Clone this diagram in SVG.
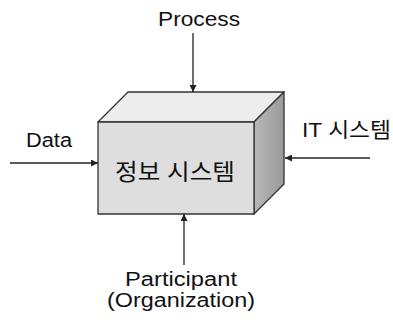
<svg xmlns="http://www.w3.org/2000/svg" width="393" height="320" viewBox="0 0 393 320">
<defs>
<style>
.t{font-family:"Liberation Sans","Noto Sans CJK KR",sans-serif;fill:#111;}
.c{stroke:#222;stroke-width:1.3;fill:none;marker-end:url(#ah);}
.edge{stroke:#333;stroke-width:1.3;stroke-linejoin:round;}
</style>
<marker id="ah" viewBox="0 0 10 10" refX="10" refY="5" markerWidth="7" markerHeight="7" orient="auto" markerUnits="userSpaceOnUse">
<path d="M0,0 L10,5 L0,10 z" fill="#222"/>
</marker>
<linearGradient id="side" x1="0" y1="0" x2="1" y2="0">
<stop offset="0" stop-color="#b8b8b8"/>
<stop offset="1" stop-color="#9a9a9a"/>
</linearGradient>
</defs>
<rect width="393" height="320" fill="#fff"/>
<g id="box">
<polygon class="edge" points="98,122 128,92 284,92 254,122" fill="#ececec"/>
<polygon class="edge" points="254,122 284,92 284,184 254,214" fill="url(#side)"/>
<rect class="edge" x="98" y="122" width="156" height="92" fill="#dedede"/>
<text class="t" x="115" y="180" font-size="23" textLength="120" lengthAdjust="spacingAndGlyphs">정보 시스템</text>
</g>
<g id="process"><text class="t" x="158" y="26" font-size="21" textLength="82" lengthAdjust="spacingAndGlyphs">Process</text></g>
<g id="data"><text class="t" x="26" y="147" font-size="20" textLength="46" lengthAdjust="spacingAndGlyphs">Data</text></g>
<g id="it"><text class="t" x="302" y="137" font-size="21" textLength="89" lengthAdjust="spacingAndGlyphs">IT 시스템</text></g>
<g id="participant">
<text class="t" x="125" y="286" font-size="20" textLength="112" lengthAdjust="spacingAndGlyphs">Participant</text>
<text class="t" x="107" y="307" font-size="20" textLength="148" lengthAdjust="spacingAndGlyphs">(Organization)</text>
</g>
<g id="connectors">
<line class="c" x1="193" y1="33" x2="193" y2="92"/>
<line class="c" x1="10" y1="163" x2="98" y2="163"/>
<line class="c" x1="370" y1="158" x2="285" y2="158"/>
<line class="c" x1="184" y1="265" x2="184" y2="214"/>
</g>
</svg>
